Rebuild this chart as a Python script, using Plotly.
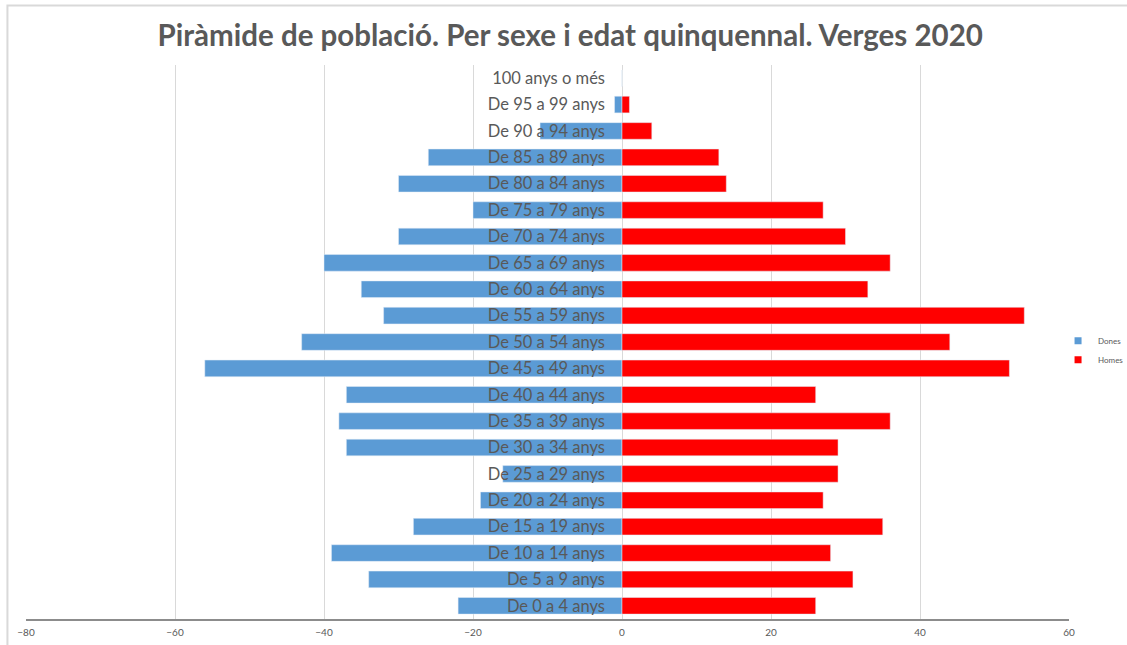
import plotly.graph_objects as go

categories = ["De 0 a 4 anys", "De 5 a 9 anys", "De 10 a 14 anys", "De 15 a 19 anys",
              "De 20 a 24 anys", "De 25 a 29 anys", "De 30 a 34 anys", "De 35 a 39 anys",
              "De 40 a 44 anys", "De 45 a 49 anys", "De 50 a 54 anys", "De 55 a 59 anys",
              "De 60 a 64 anys", "De 65 a 69 anys", "De 70 a 74 anys", "De 75 a 79 anys",
              "De 80 a 84 anys", "De 85 a 89 anys", "De 90 a 94 anys", "De 95 a 99 anys",
              "100 anys o més"]
dones = [-22, -34, -39, -28, -19, -16, -37, -38, -37, -56, -43, -32,
         -35, -40, -30, -20, -30, -26, -11, -1, 0]
homes = [26, 31, 28, 35, 27, 29, 29, 36, 26, 52, 44, 54,
         33, 36, 30, 27, 14, 13, 4, 1, 0]
x_ticks = [-80, -60, -40, -20, 0, 20, 40, 60]
title = "Piràmide de població. Per sexe i edat quinquennal. Verges 2020"

BLUE = "#5B9BD5"
RED = "#FF0000"
GREY = "#595959"
FONT = "Lato, 'Open Sans', sans-serif"

fig = go.Figure()
fig.add_trace(go.Bar(y=categories, x=dones, orientation="h", name="Dones",
                     marker=dict(color=BLUE), showlegend=False))
fig.add_trace(go.Bar(y=categories, x=homes, orientation="h", name="Homes",
                     marker=dict(color=RED), showlegend=False))
# legend entries
fig.add_trace(go.Scatter(x=[None], y=[None], mode="markers", name="Dones",
                         marker=dict(symbol="square", size=7, color=BLUE)))
fig.add_trace(go.Scatter(x=[None], y=[None], mode="markers", name="Homes",
                         marker=dict(symbol="square", size=7, color=RED)))

x_min, x_max = x_ticks[0], x_ticks[-1]

fig.update_layout(
    width=1127, height=645,
    barmode="relative", bargap=0.37,
    paper_bgcolor="white", plot_bgcolor="white",
    margin=dict(l=26, r=58, t=65, b=26, autoexpand=False),
    font=dict(family=FONT, color=GREY),
    title=dict(text="<b>" + title + "</b>", x=0.506, xanchor="center",
               y=0.944, yanchor="middle", xref="container", yref="container",
               font=dict(size=29.5, color=GREY, family=FONT)),
    legend=dict(x=0.9895, xanchor="left", y=0.485, yanchor="middle",
                font=dict(size=8, color=GREY), bgcolor="rgba(0,0,0,0)",
                itemwidth=30),
    xaxis=dict(range=[x_min, x_max], tickvals=x_ticks, showgrid=True,
               gridcolor="#D9D9D9", gridwidth=1, zeroline=True,
               zerolinecolor="#D9D9D9", zerolinewidth=1,
               showline=True, linecolor="#8C8C8C", linewidth=1.5,
               ticklabelstandoff=3,
               tickfont=dict(size=10, color=GREY), ticks="", fixedrange=True),
    yaxis=dict(type="category", categoryorder="array", categoryarray=categories,
               range=[-0.5, len(categories) - 0.5],
               anchor="free", position=(0 - x_min) / (x_max - x_min),
               showgrid=False, showline=False, ticks="",
               ticklabelstandoff=17, fixedrange=True,
               tickfont=dict(size=16.5, color=GREY), layer="above traces"),
    shapes=[dict(type="rect", xref="paper", yref="paper",
                 x0=-0.0178, x1=1.2, y0=-0.2, y1=1.1073,
                 line=dict(color="#D9D9D9", width=2), fillcolor="rgba(0,0,0,0)",
                 layer="below")],
)

fig.write_html("out.html", config={"displayModeBar": False},
               post_script="document.body.style.margin='0';")
